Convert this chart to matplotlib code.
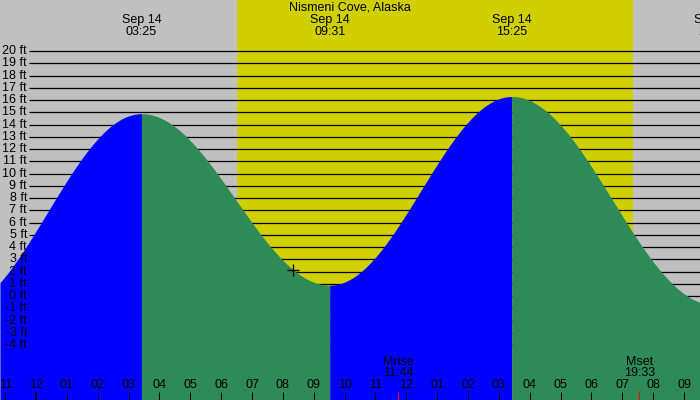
import matplotlib
matplotlib.use('Agg')
import matplotlib.pyplot as plt
import matplotlib.transforms as mtransforms
import numpy as np

plt.rcParams['font.family'] = ['Liberation Sans', 'DejaVu Sans']

# tide extremes, hours from midnight Sep 14 (negative = Sep 13)
tide_times = [-2.67, 3.417, 9.517, 15.417, 21.967]
tide_heights = [-1.2, 14.9, 0.9, 16.3, -0.7]
tide_labels = ['', 'Sep 14\n03:25', 'Sep 14\n09:31', 'Sep 14\n15:25', 'Sep 14\n21:58']

sunrise, sunset = 6.517, 19.35
moon_times = [11.733, 19.55]
moon_labels = ['Mrise\n11:44', 'Mset\n19:33']
now_time = 8.33

ft_levels = list(range(20, -5, -1))
hours = list(range(-1, 22))

# pixel layout: x = 36 + 30.86*t, y = 296.2 - 12.25*h
t_left, t_right = -36 / 30.86, 664 / 30.86
h_top, h_bot = 296.2 / 12.25, -(400 - 296.2) / 12.25

GREY = '#c0c0c0'
YELLOW = '#d0d000'
BLUE = '#0000ff'
GREEN = '#2e8b57'


def ypx(p):
    return 1 - p / 400.0


def tide_at(t):
    for i in range(len(tide_times) - 1):
        t0, t1 = tide_times[i], tide_times[i + 1]
        if t0 <= t <= t1:
            h0, h1 = tide_heights[i], tide_heights[i + 1]
            p = (t - t0) / (t1 - t0)
            return h0 + (h1 - h0) * (1 - np.cos(np.pi * p)) / 2
    return np.nan


fig = plt.figure(figsize=(7, 4), dpi=100, facecolor=GREY)
ax = fig.add_axes([0, 0, 1, 1])
ax.set_xlim(t_left, t_right)
ax.set_ylim(h_bot, h_top)
ax.axis('off')

trans_xdata = mtransforms.blended_transform_factory(ax.transData, ax.transAxes)
trans_ydata = mtransforms.blended_transform_factory(ax.transAxes, ax.transData)

# daylight
ax.axvspan(sunrise, sunset, color=YELLOW, lw=0, zorder=0)

# level lines + labels
ax.hlines(ft_levels, 29 / 700, 1, transform=trans_ydata, color='black', lw=0.9, zorder=1)
for lv in ft_levels:
    ax.text(27 / 700, lv, '%d ft' % lv, transform=trans_ydata, ha='right', va='center',
            fontsize=9, zorder=5)

# tide fill, blue rising, green falling
for i in range(len(tide_times) - 1):
    t0, t1 = tide_times[i], tide_times[i + 1]
    tt = np.linspace(max(t0, t_left), min(t1, t_right), 200)
    if tt[0] >= tt[-1]:
        continue
    hh = np.array([tide_at(t) for t in tt])
    col = BLUE if tide_heights[i + 1] > tide_heights[i] else GREEN
    ax.fill_between(tt, hh, h_bot, color=col, lw=0, zorder=2)

# current time marker
ax.plot(now_time, tide_at(now_time), marker='+', color='black', markersize=8, mew=1, zorder=6)

# tide labels on top
for t, lbl in zip(tide_times, tide_labels):
    if lbl:
        ax.text(t, ypx(26), lbl, transform=trans_xdata, ha='center', va='center',
                fontsize=9, linespacing=0.95, zorder=6)

ax.text(0.5, ypx(8), 'Nismeni Cove, Alaska', transform=ax.transAxes, ha='center',
        va='center', fontsize=9, zorder=6)

# hour ticks
for h in hours:
    hr = h % 24
    lbl = '%02d' % (hr % 12 or 12)
    lw = 2 if hr == 0 else 1
    ax.plot([h, h], [ypx(392), ypx(400)], transform=trans_xdata, color='black', lw=lw * 0.75,
            solid_capstyle='butt', zorder=6)
    ax.text(h, ypx(385), lbl, transform=trans_xdata, ha='center', va='center',
            fontsize=9, zorder=6)

# moon rise/set
for t, lbl in zip(moon_times, moon_labels):
    ax.plot([t, t], [ypx(392), ypx(400)], transform=trans_xdata, color='red', lw=0.75,
            solid_capstyle='butt', zorder=6)
    ax.text(t, ypx(367.5), lbl, transform=trans_xdata, ha='center', va='center',
            fontsize=9, linespacing=0.95, zorder=6)

fig.savefig('out.png', dpi=100, facecolor=GREY)
